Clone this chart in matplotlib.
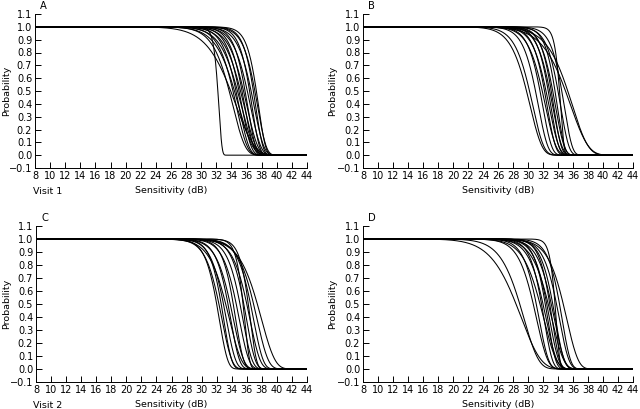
import numpy as np
import matplotlib
matplotlib.use('Agg')
import matplotlib.pyplot as plt

# fitted psychometric functions: 50% point (dB) and Weibull slope per curve
mid_a = [32.2, 33.7, 33.9, 34.2, 34.4, 34.6, 34.8, 35.0, 35.2, 35.4,
         35.6, 35.8, 36.1, 36.4, 36.6, 36.9, 37.1, 37.3]
shape_a = [80, 22, 15, 25, 20, 28, 22, 30, 24, 32,
           26, 35, 28, 38, 30, 40, 34, 42]

mid_b = [29.8, 30.2, 31.0, 31.6, 31.9, 32.2, 32.4, 32.7, 32.9, 33.1,
         33.3, 33.6, 34.0, 34.2, 34.5, 35.0, 35.3]
shape_b = [20, 22, 26, 28, 24, 30, 26, 32, 28, 34,
           30, 36, 32, 75, 34, 16, 18]

mid_c = [32.0, 32.3, 32.6, 32.9, 33.2, 33.5, 33.8, 34.2, 34.6, 35.5,
         35.1, 35.6, 36.0, 36.5, 36.9, 37.4, 36.2]
shape_c = [30, 26, 32, 28, 22, 30, 26, 34, 28, 55,
           30, 32, 28, 30, 26, 22, 45]

mid_d = [28.4, 28.9, 30.7, 31.1, 31.6, 31.8, 32.0, 32.3, 32.5, 32.7,
         32.9, 33.1, 33.3, 33.6, 33.8, 34.2, 34.7]
shape_d = [12, 16, 22, 26, 20, 30, 24, 32, 28, 22,
           34, 26, 30, 70, 28, 32, 24]

panel_labels = ['A', 'B', 'C', 'D']
visit_labels = ['Visit 1', '', 'Visit 2', '']
x_ticks = list(range(8, 45, 2))
y_ticks = [round(-0.1 + 0.1 * i, 1) for i in range(13)]

plt.rcParams['font.family'] = 'DejaVu Sans'
plt.rcParams['font.size'] = 6.8

fig = plt.figure(figsize=(6.4, 4.09), dpi=100)
W, H = 640, 409
# axes boxes in pixels: left, top, right, bottom
boxes = [(35, 14, 307, 168), (363, 14, 633, 168),
         (36, 226, 307, 382), (363, 226, 633, 382)]
ylabel_x = [7, 333, 7, 333]
mids = [mid_a, mid_b, mid_c, mid_d]
shapes = [shape_a, shape_b, shape_c, shape_d]

x = np.linspace(8, 44, 1500)

for i, (l, t, r, b) in enumerate(boxes):
    ax = fig.add_axes([l / W, 1 - b / H, (r - l) / W, (b - t) / H])
    for m, s in zip(mids[i], shapes[i]):
        p = np.exp(-np.log(2) * (x / m) ** s)
        ax.plot(x, p, color='black', lw=0.75)
    ax.set_xlim(8, 44)
    ax.set_ylim(-0.1, 1.1)
    ax.set_xticks(x_ticks)
    ax.set_yticks(y_ticks)
    ax.set_yticklabels([f'{v:.1f}'.replace('-', '\u2212') for v in y_ticks])
    for side in ['top', 'right']:
        ax.spines[side].set_visible(False)
    for side in ['left', 'bottom']:
        ax.spines[side].set_linewidth(0.7)
    ax.tick_params(direction='in', length=4, width=0.7, pad=2,
                   labelsize=7)
    ax.set_xlabel('Sensitivity (dB)', labelpad=4, fontsize=6.8)
    fig.text(ylabel_x[i] / W, 1 - (t + b) / 2 / H, 'Probability',
             rotation=90, ha='center', va='center', fontsize=6.8)
    fig.text((l + 5) / W, 1 - (t - 8) / H, panel_labels[i],
             ha='left', va='center', fontsize=7.2)
    if visit_labels[i]:
        fig.text(33 / W, 1 - (b + 24) / H, visit_labels[i],
                 ha='left', va='center', fontsize=6.8)

fig.savefig('out.png', dpi=100)
